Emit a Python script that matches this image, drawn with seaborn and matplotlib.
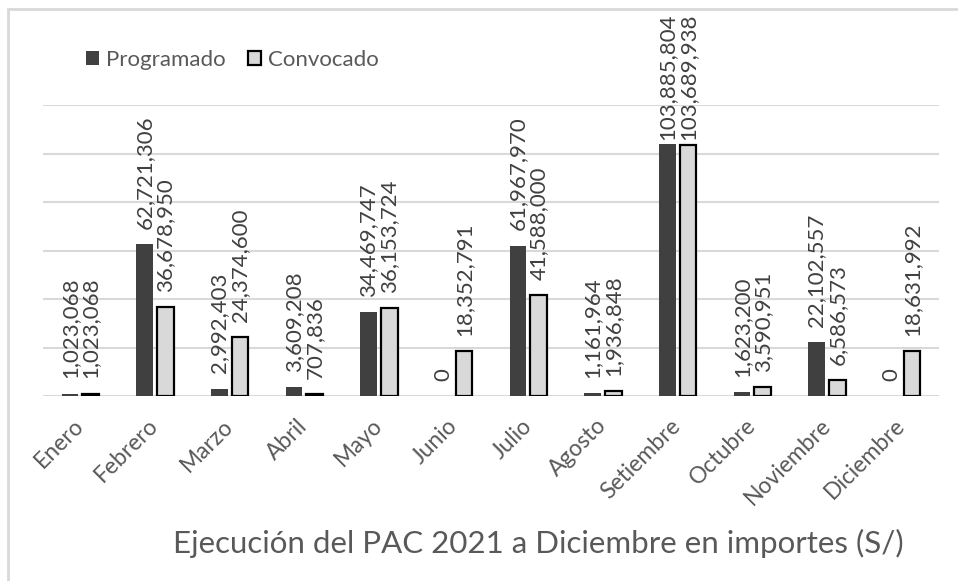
import matplotlib.pyplot as plt
import matplotlib.patches as mpatches
import pandas as pd
import seaborn as sns

meses = ["Enero", "Febrero", "Marzo", "Abril", "Mayo", "Junio", "Julio",
         "Agosto", "Setiembre", "Octubre", "Noviembre", "Diciembre"]
programado = [1023068, 62721306, 2992403, 3609208, 34469747, 0, 61967970,
              1161964, 103885804, 1623200, 22102557, 0]
convocado = [1023068, 36678950, 24374600, 707836, 36153724, 18352791, 41588000,
             1936848, 103689938, 3590951, 6586573, 18631992]
series = ["Programado", "Convocado"]

df = pd.DataFrame({
    "mes": meses * 2,
    "importe": programado + convocado,
    "serie": [series[0]] * len(meses) + [series[1]] * len(meses),
})

sns.set_theme(style="white")
plt.rcParams["font.family"] = ["Lato", "DejaVu Sans"]

fig = plt.figure(figsize=(9.58, 5.81), dpi=100)
ax = fig.add_axes([43 / 958, 1 - 396 / 581, (939 - 43) / 958, (396 - 105) / 581])

sns.barplot(data=df, x="mes", y="importe", hue="serie", order=meses,
            hue_order=series, palette=["#404040", "#d9d9d9"],
            width=0.56, gap=0.2, ax=ax, legend=False, saturation=1)

# edge only on the light bars; labels pushed down where they'd leave the chart
for cont, name in zip(ax.containers, series):
    for bar in cont:
        if name == "Convocado":
            bar.set_edgecolor("black")
            bar.set_linewidth(1.6)
        else:
            bar.set_linewidth(0)
    vals = programado if name == "Programado" else convocado
    anns = ax.bar_label(cont, labels=[f"{v:,.0f}" for v in vals],
                        rotation=90, padding=11, fontsize=16, color="#404040")
    for a, v in zip(anns, vals):
        if v > 100000000:
            a.xyann = (0, 3)

ax.set_ylim(0, 120000000)
ax.set_xlim(-0.5, 11.5)
ax.set_yticks(range(0, 120000001, 20000000))
ax.set_yticklabels([])
ax.yaxis.grid(True, color="#d9d9d9", linewidth=1.5)
ax.set_axisbelow(True)
for s in ax.spines.values():
    s.set_visible(False)
ax.set_xlabel("")
ax.set_ylabel("")
ax.tick_params(axis="x", length=0, pad=19, labelsize=16.5, labelcolor="#595959")
ax.tick_params(axis="y", length=0)
plt.setp(ax.get_xticklabels(), rotation=45, ha="right", va="center", rotation_mode="anchor")

handles = [mpatches.Patch(facecolor="#404040", edgecolor="none", label=series[0]),
           mpatches.Patch(facecolor="#d9d9d9", edgecolor="black", linewidth=1.6, label=series[1])]
fig.legend(handles=handles, loc="center left", bbox_to_anchor=(66 / 958, 1 - 60 / 581),
           ncol=2, frameon=False, fontsize=16, labelcolor="#595959",
           handlelength=0.6, handleheight=0.6, handletextpad=0.3, columnspacing=1.0)

fig.text(538 / 958, 1 - 543 / 581, "Ejecución del PAC 2021 a Diciembre en importes (S/)",
         ha="center", va="center", fontsize=22.5, color="#595959")

fig.patches.append(mpatches.Rectangle((8 / 958, -0.1), 1.2, 1 - 9 / 581 + 0.1,
                                      transform=fig.transFigure, fill=False,
                                      edgecolor="#d9d9d9", linewidth=2))

fig.savefig("out.png", dpi=100)
